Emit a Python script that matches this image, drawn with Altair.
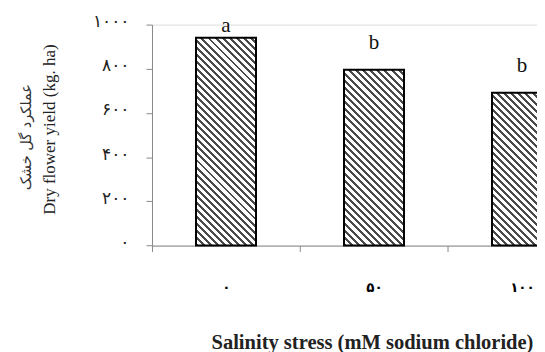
import math
import altair as alt
import pandas as pd

# ---- data ----
categories = ["۰", "۵۰", "۱۰۰"]          # salinity (mM NaCl): 0, 50, 100
yield_values = [941, 796, 692]            # dry flower yield (kg/ha)
letters = ["a", "b", "b"]
y_tick_values = [0, 200, 400, 600, 800, 1000]
y_tick_labels = ["۰", "۲۰۰", "۴۰۰", "۶۰۰", "۸۰۰", "۱۰۰۰"]
y_title_en = "Dry flower yield (kg. ha)"
y_title_fa = "عملکرد گل خشک"
x_title = "Salinity stress (mM sodium chloride)"

df = pd.DataFrame({"cat": categories, "y": yield_values, "letter": letters})

# ---- layout (style) ----
# the page shrinks an svg wider than 529px to fit; pre-scale so it lands on target pixels
S = 537 / 529


def s(v):
    return v * S


SVG_W = 537
PAD_L = s(144)
PAD_T = s(14)
PLOT_W = SVG_W - PAD_L
PLOT_H = s(221)
SVG_H = s(344)
PAD_B = SVG_H - PAD_T - PLOT_H
BAND_RANGE = s(444)
STEP = BAND_RANGE / 3
BAR_W = s(60)
SERIF = "Liberation Serif"


def hatch_gradient(value):
    w = BAR_W
    h = value / 1000 * PLOT_H
    r = w / h
    k = (r + 1) / (r * r + 1)
    L = (w + h) / math.sqrt(2)
    period = s(5.0)
    n = max(1, int(round(L / period)))
    dark = 0.42
    stops = []
    for i in range(n):
        a = i / n
        e = (i + dark) / n
        stops += [
            {"offset": a, "color": "#ffffff"},
            {"offset": a, "color": "#4a4a4a"},
            {"offset": e, "color": "#4a4a4a"},
            {"offset": e, "color": "#ffffff"},
        ]
    stops.append({"offset": 1, "color": "#ffffff"})
    return {"gradient": "linear", "x1": 0, "y1": 1, "x2": k * r, "y2": 1 - k, "stops": stops}


label_map = "{" + ",".join(f"'{v}':'{l}'" for v, l in zip(y_tick_values, y_tick_labels)) + "}"

x_enc = alt.X(
    "cat:N",
    sort=categories,
    scale=alt.Scale(range=[0, BAND_RANGE], paddingInner=1 - BAR_W / STEP, paddingOuter=(1 - BAR_W / STEP) / 2),
    axis=alt.Axis(
        title=x_title,
        titleFont=SERIF,
        titleFontSize=s(20.5),
        titleFontWeight="bold",
        titleColor="#222",
        titleX=s(222 - 2),
        titleY=s(103),
        titleBaseline="alphabetic",
        labelAngle=0,
        labelFont="DejaVu Sans",
        labelFontSize=s(13.5),
        labelFontWeight="bold",
        labelColor="#000",
        labelPadding=s(36),
        labelBaseline="middle",
        tickOffset=-STEP / 2,
        labelOffset=STEP / 2,
        tickSize=s(6),
        tickColor="#888",
        domainColor="#888",
        grid=False,
    ),
)

y_enc = alt.Y(
    "y:Q",
    scale=alt.Scale(domain=[0, 1000], nice=False),
    axis=alt.Axis(
        values=y_tick_values,
        labelExpr=f"{label_map}[datum.value]",
        title=y_title_en,
        titleFont=SERIF,
        titleFontSize=s(17),
        titleFontWeight="normal",
        titleColor="#222",
        titleAngle=-90,
        titleX=s(-102),
        titleY=s(221 / 2 - 6),
        titleAlign="center",
        titleBaseline="middle",
        labelFont="DejaVu Sans",
        labelFontSize=s(17),
        labelColor="#222",
        labelPadding=s(17),
        labelOffset=s(-3),
        tickSize=s(6),
        tickColor="#888",
        domainColor="#888",
        grid=False,
    ),
)

layers = []
for c, v in zip(categories, yield_values):
    layers.append(
        alt.Chart(df)
        .transform_filter(alt.datum.cat == c)
        .mark_bar(fill=hatch_gradient(v), stroke="#000", strokeWidth=s(2))
        .encode(x=x_enc, y=y_enc)
    )

text = (
    alt.Chart(df)
    .transform_calculate(ly="min(datum.y + 77, 950)")
    .mark_text(font=SERIF, fontSize=s(21), baseline="bottom", color="#111")
    .encode(x=alt.X("cat:N", sort=categories), y=alt.Y("ly:Q"), text="letter:N")
)

fa_title = (
    alt.Chart(pd.DataFrame({"t": [y_title_fa]}))
    .mark_text(font="DejaVu Sans", fontSize=s(14.5), angle=270, align="center", baseline="middle", color="#333")
    .encode(x=alt.value(s(-125)), y=alt.value(s(221 / 2 + 2)), text="t:N")
)

chart = (
    alt.layer(*layers, text, fa_title)
    .properties(
        width=PLOT_W,
        height=PLOT_H,
        autosize=alt.AutoSizeParams(type="none"),
        padding={"left": PAD_L, "top": PAD_T, "right": 0, "bottom": PAD_B},
    )
    .configure_view(stroke=None)
    .configure(background="white")
)

chart.save("out.html", embed_options={"renderer": "svg", "actions": False})
